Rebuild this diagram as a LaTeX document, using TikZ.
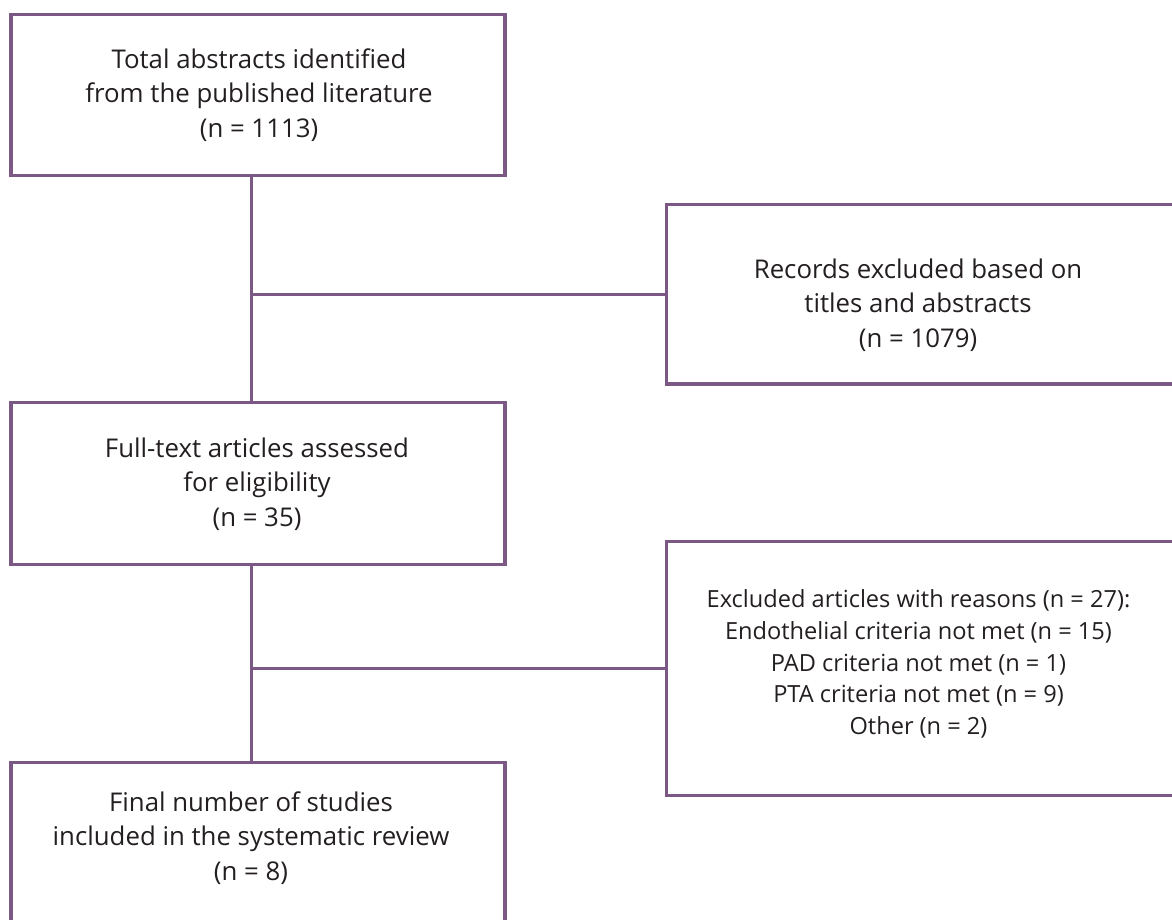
\documentclass[tikz,border=0pt]{standalone}
\usepackage{fontspec}
\setmainfont{Open Sans}
\definecolor{frame}{RGB}{124,88,132}
\definecolor{ink}{RGB}{35,31,32}
\begin{document}
\begin{tikzpicture}[x=1pt,y=-1pt,
  box/.style={draw=frame,line width=3.5pt,inner sep=0pt,outer sep=0pt},
  label/.style={text=ink,align=center,inner sep=0pt,font=\fontsize{25.8}{34.5}\selectfont},
  conn/.style={draw=frame,line width=3.5pt}]
\useasboundingbox (0,0) rectangle (1172,920);
\clip (0,0) rectangle (1172,920);
\fill[white] (0,0) rectangle (1172,920);
% boxes
\node[box,minimum width=494pt,minimum height=161pt] (b1) at (258,95) {};
\node[box,minimum width=513.5pt,minimum height=179.5pt] (b2) at (923.25,294.25) {};
\node[box,minimum width=494pt,minimum height=162pt] (b3) at (258,483.5) {};
\node[box,minimum width=513.5pt,minimum height=254pt] (b4) at (923.25,668.5) {};
\node[box,minimum width=494pt,minimum height=177.5pt] (b5) at (258,851.25) {};
% texts
\node[label] (t1) at (259,95) {Total abstracts identified\\from the published literature\\(n = 1113)};
\node[label] (t2) at (918,305) {Records excluded based on\\titles and abstracts\\(n = 1079)};
\node[label] (t3) at (257,484) {Full-text articles assessed\\for eligibility\\(n = 35)};
\node[label,font=\fontsize{23.6}{31.7}\selectfont] (t4) at (918.5,664) {Excluded articles with reasons (n = 27):\\Endothelial criteria not met (n = 15)\\PAD criteria not met (n = 1)\\PTA criteria not met (n = 9)\\Other (n = 2)};
\node[label] (t5) at (251,838) {Final number of studies\\included in the systematic review\\(n = 8)};
% connectors
\coordinate (sp) at ([xshift=-6.5pt]b1.south);
\draw[conn] (sp) -- (sp |- b3.north);
\draw[conn] (sp |- b3.south) -- (sp |- b5.north);
\draw[conn] (b2.west) -- (b2.west -| sp);
\draw[conn] (b4.west) -- (b4.west -| sp);
\end{tikzpicture}
\end{document}
